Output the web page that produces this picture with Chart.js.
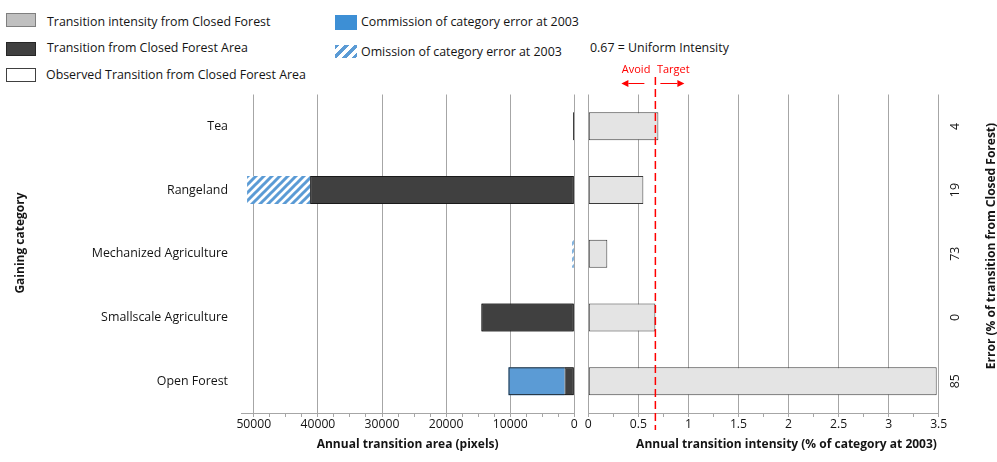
<!DOCTYPE html>
<html>
<head>
<meta charset="utf-8">
<title>Transitions from Closed Forest</title>
<script src="https://cdn.jsdelivr.net/npm/chart.js@4.4.1/dist/chart.umd.min.js"></script>
<style>
  html, body { margin: 0; padding: 0; background: #fff; }
  #wrap { position: relative; width: 997px; height: 462px; overflow: hidden;
          font-family: "Open Sans", sans-serif; color: #141414; }
  #areaBox { position: absolute; left: 0; top: 0; width: 582px; height: 462px; }
  #intBox  { position: absolute; left: 582px; top: 0; width: 415px; height: 462px; }
  .key { position: absolute; font-size: 12.4px; line-height: 14px; white-space: nowrap; }
  .sw  { position: absolute; box-sizing: border-box; }
</style>
</head>
<body>
<div id="wrap">
  <div class="sw" style="left:6px;top:13px;width:30px;height:14px;background:#c0c0c0;border:1px solid #7f7f7f;"></div>
  <div class="key" style="left:47px;top:15px;">Transition intensity from Closed Forest</div>
  <div class="sw" style="left:6px;top:42px;width:30px;height:14px;background:#404040;border:1px solid #262626;"></div>
  <div class="key" style="left:47px;top:41px;">Transition from Closed Forest Area</div>
  <div class="sw" style="left:6px;top:68px;width:30px;height:14px;background:#fff;border:1px solid #404040;"></div>
  <div class="key" style="left:46px;top:68px;">Observed Transition from Closed Forest Area</div>
  <div class="sw" style="left:335px;top:15px;width:22px;height:15px;background:#3d8fd5;"></div>
  <div class="key" style="left:361px;top:15px;">Commission of category error at 2003</div>
  <div class="sw" style="left:335px;top:45px;width:22px;height:13px;background:repeating-linear-gradient(135deg,#5b9bd5 0 3px,#fff 3px 7px);"></div>
  <div class="key" style="left:361px;top:45px;">Omission of category error at 2003</div>
  <div class="key" id="uniformNote" style="left:590px;top:41px;"></div>
  <div id="areaBox"><canvas id="areaChart" width="582" height="462"></canvas></div>
  <div id="intBox"><canvas id="intChart" width="415" height="462"></canvas></div>
</div>
<script>
// Gaining categories (top to bottom)
const categories = ['Tea', 'Rangeland', 'Mechanized Agriculture', 'Smallscale Agriculture', 'Open Forest'];

// Annual transition area from Closed Forest (pixels)
const observedArea   = [200, 41200, 90, 14500, 10280];
const transitionArea = [200, 41200, 90, 14500, 1520];
const commissionArea = [0, 0, 0, 0, 8760];
const omissionArea   = [0, 9850, 230, 0, 0];

// Annual transition intensity (% of category at 2003)
const intensity = [0.70, 0.55, 0.19, 0.67, 3.48];

// Error (% of transition from Closed Forest)
const errorPct = [4, 19, 73, 0, 85];

// Uniform intensity reference
const uniformIntensity = 0.67;

// Axis ranges and tick spacing
const areaMax = 52000, areaMajor = 10000, areaMinor = 2500, areaLastTick = 50000;
const intMax = 3.5, intMajor = 0.5, intMinor = 0.25;

const FONT = '"Open Sans", sans-serif';
const TEXT = '#141414';
const GRID = '#a6a6a6';

document.getElementById('uniformNote').textContent = uniformIntensity + ' = Uniform Intensity';

// diagonal blue hatch for the omission bars
function hatchPattern() {
  const s = 8;
  const c = document.createElement('canvas');
  c.width = s; c.height = s;
  const g = c.getContext('2d');
  g.fillStyle = '#ffffff'; g.fillRect(0, 0, s, s);
  g.strokeStyle = '#5b9bd5'; g.lineWidth = 3;
  g.beginPath();
  g.moveTo(0, s); g.lineTo(s, 0);
  g.moveTo(-s / 2, s / 2); g.lineTo(s / 2, -s / 2);
  g.moveTo(s / 2, s * 1.5); g.lineTo(s * 1.5, s / 2);
  g.stroke();
  return g.createPattern(c, 'repeat');
}

function tickList(max, step) {
  const out = [];
  for (let k = 0; k * step <= max + 1e-9; k++) out.push({ value: k * step });
  return out;
}
const isMajor = (v, major) => Math.abs(v / major - Math.round(v / major)) < 1e-6;

function verticalText(ctx, text, x, y, font, color) {
  ctx.save();
  ctx.translate(x, y);
  ctx.rotate(-Math.PI / 2);
  ctx.font = font;
  ctx.fillStyle = color;
  ctx.textAlign = 'center';
  ctx.textBaseline = 'middle';
  ctx.fillText(text, 0, 0);
  ctx.restore();
}

Chart.defaults.font.family = FONT;
Chart.defaults.color = TEXT;

// ---------- left: annual transition area ----------
const areaTitle = {
  id: 'areaTitle',
  afterDraw(chart) {
    verticalText(chart.ctx, 'Gaining category', 20.7, 243, 'bold 12px ' + FONT, TEXT);
  }
};

new Chart(document.getElementById('areaChart'), {
  type: 'bar',
  data: {
    labels: categories,
    datasets: [
      { label: 'Observed Transition from Closed Forest Area', data: observedArea, stack: 'obs', grouped: false,
        backgroundColor: 'rgba(0,0,0,0)', borderColor: '#1a1a1a', borderWidth: 1, borderSkipped: false, order: 0 },
      { label: 'Transition from Closed Forest Area', data: transitionArea, stack: 'area',
        backgroundColor: '#404040', borderColor: '#262626', borderWidth: 1, borderSkipped: false, order: 1 },
      { label: 'Commission of category error at 2003', data: commissionArea, stack: 'area',
        backgroundColor: '#5b9bd5', borderWidth: 0, order: 1 },
      { label: 'Omission of category error at 2003', data: omissionArea, stack: 'area',
        backgroundColor: hatchPattern(), borderWidth: 0, order: 1 }
    ]
  },
  options: {
    indexAxis: 'y',
    responsive: false,
    animation: false,
    layout: { padding: { left: 0, right: 7.7, top: 94.5, bottom: 0 } },
    datasets: { bar: { categoryPercentage: 1, barPercentage: 0.44 } },
    plugins: { legend: { display: false }, tooltip: { enabled: false } },
    scales: {
      x: {
        type: 'linear', reverse: true, stacked: true, min: 0, max: areaMax,
        afterBuildTicks: s => { s.ticks = tickList(areaLastTick, areaMinor); },
        afterFit: s => { s.height = 49; },
        grid: {
          color: c => (c.tick && isMajor(c.tick.value, areaMajor)) ? GRID : 'rgba(0,0,0,0)',
          tickColor: GRID, tickLength: 4, drawTicks: true
        },
        border: { display: true, color: GRID },
        ticks: {
          autoSkip: false, maxRotation: 0, padding: 1,
          font: { size: 12.2, lineHeight: 1 }, color: TEXT,
          callback: v => isMajor(v, areaMajor) ? String(v) : ''
        },
        title: { display: true, text: 'Annual transition area (pixels)', color: TEXT,
                 font: { size: 12, weight: 'bold', lineHeight: 1.2 }, padding: { top: 0, bottom: 10 } }
      },
      y: {
        type: 'category', stacked: true,
        afterFit: s => { s.width = 241; },
        grid: { display: false, drawTicks: false },
        border: { display: false },
        ticks: { padding: 13, font: { size: 12.4 }, color: TEXT }
      }
    }
  },
  plugins: [areaTitle]
});

// ---------- right: annual transition intensity ----------
const intensityDecor = {
  id: 'intensityDecor',
  afterDraw(chart) {
    const { ctx, chartArea, scales: { x, y } } = chart;
    const px = x.getPixelForValue(uniformIntensity);
    ctx.save();
    // uniform intensity line
    ctx.strokeStyle = '#ff0000';
    ctx.lineWidth = 1.5;
    ctx.setLineDash([8, 4]);
    ctx.beginPath();
    ctx.moveTo(px, 77);
    ctx.lineTo(px, chartArea.bottom + 17);
    ctx.stroke();
    ctx.setLineDash([]);

    // avoid / target arrows
    const ay = 83.5;
    ctx.lineWidth = 1;
    ctx.fillStyle = '#ff0000';
    ctx.beginPath();
    ctx.moveTo(px - 11, ay); ctx.lineTo(px - 27, ay);
    ctx.moveTo(px + 5, ay); ctx.lineTo(px + 22, ay);
    ctx.stroke();
    ctx.beginPath();
    ctx.moveTo(px - 34, ay); ctx.lineTo(px - 27, ay - 3.5); ctx.lineTo(px - 27, ay + 3.5); ctx.closePath();
    ctx.moveTo(px + 29, ay); ctx.lineTo(px + 22, ay - 3.5); ctx.lineTo(px + 22, ay + 3.5); ctx.closePath();
    ctx.fill();

    ctx.font = '11px ' + FONT;
    ctx.textBaseline = 'middle';
    ctx.textAlign = 'right';
    ctx.fillText('Avoid', px - 5, 70);
    ctx.textAlign = 'left';
    ctx.fillText('Target', px + 1.5, 70);
    ctx.restore();

    // error labels and right-hand title
    errorPct.forEach((e, i) => {
      verticalText(ctx, String(e), chartArea.right + 16.5, y.getPixelForValue(i), '12.4px ' + FONT, TEXT);
    });
    verticalText(ctx, 'Error (% of transition from Closed Forest)', chart.width - 5.5, 246, 'bold 12px ' + FONT, TEXT);

    // bottom title
    ctx.save();
    ctx.font = 'bold 12px ' + FONT;
    ctx.fillStyle = TEXT;
    ctx.textAlign = 'center';
    ctx.textBaseline = 'middle';
    ctx.fillText('Annual transition intensity (% of category at 2003)', (chartArea.left + chartArea.right) / 2 + 23, 445);
    ctx.restore();
  }
};

new Chart(document.getElementById('intChart'), {
  type: 'bar',
  data: {
    labels: categories,
    datasets: [
      { label: 'Transition intensity from Closed Forest', data: intensity,
        backgroundColor: '#e4e4e4', borderColor: '#3a3a3a', borderWidth: 1, borderSkipped: false }
    ]
  },
  options: {
    indexAxis: 'y',
    responsive: false,
    animation: false,
    layout: { padding: { left: 6.3, right: 0, top: 94.5, bottom: 0 } },
    datasets: { bar: { categoryPercentage: 1, barPercentage: 0.44 } },
    plugins: { legend: { display: false }, tooltip: { enabled: false } },
    scales: {
      x: {
        type: 'linear', min: 0, max: intMax,
        afterBuildTicks: s => { s.ticks = tickList(intMax, intMinor); },
        afterFit: s => { s.height = 49; },
        grid: {
          color: c => (c.tick && isMajor(c.tick.value, intMajor)) ? GRID : 'rgba(0,0,0,0)',
          tickColor: GRID, tickLength: 4, drawTicks: true
        },
        border: { display: true, color: GRID },
        ticks: {
          autoSkip: false, maxRotation: 0, padding: 1,
          font: { size: 12.2, lineHeight: 1 }, color: TEXT,
          callback: v => isMajor(v, intMajor) ? String(v) : ''
        }
      },
      y: {
        type: 'category', position: 'right',
        afterFit: s => { s.width = 58.3; },
        grid: { display: false, drawTicks: false },
        border: { display: false },
        ticks: { display: false }
      }
    }
  },
  plugins: [intensityDecor]
});
</script>
</body>
</html>
